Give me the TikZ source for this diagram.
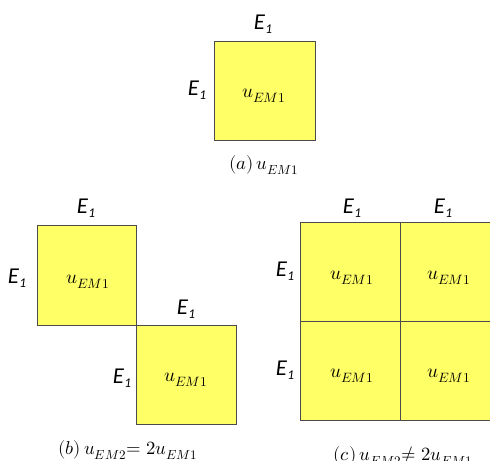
\documentclass[tikz,border=0pt]{standalone}
\usepackage{unicode-math}
\setmathfont{Latin Modern Math}
\newfontfamily\lbl{Carlito}
\begin{document}
\begin{tikzpicture}[x=0.75pt,y=-0.75pt,
  cell/.style={draw=black!70,fill=yellowfill,line width=0.6pt},
  elbl/.style={inner sep=0pt,font=\lbl\itshape\fontsize{17}{17}\selectfont},
  ulbl/.style={inner sep=0pt,font=\fontsize{14.5}{14.5}\selectfont},
  captxt/.style={inner sep=0pt,font=\fontsize{14}{14}\selectfont}]
\definecolor{yellowfill}{RGB}{255,255,102}
\useasboundingbox (0,0) rectangle (490,461);
\newcommand{\Eone}{E\kern0.5pt\raisebox{-3pt}{\fontsize{10}{10}\selectfont 1}}
% (a)
\draw[cell] (214,41) rectangle (315,140);
\node[elbl] (a1) at (263,24) {\Eone};
\node[elbl] (a2) at (197,90) {\Eone};
\node[ulbl] (au) at (264,96) {$u_{EM1}$};
\node[captxt] (acap) at (264,165) {$(a)\,u_{EM1}$};
% (b)
\draw[cell] (37,225) rectangle (136,325);
\draw[cell] (136,325) rectangle (236,424);
\node[elbl] (b1) at (86,208) {\Eone};
\node[elbl] (b2) at (17,278) {\Eone};
\node[ulbl] (bu1) at (88,282) {$u_{EM1}$};
\node[elbl] (b3) at (186,309) {\Eone};
\node[elbl] (b4) at (122,378) {\Eone};
\node[ulbl] (bu2) at (186,380) {$u_{EM1}$};
\node[captxt] (bcap) at (128,450) {$(b)\,u_{EM2}{=}\;2u_{EM1}$};
% (c)
\draw[cell] (300,222) rectangle (400,321);
\draw[cell] (400,222) rectangle (500,321);
\draw[cell] (300,321) rectangle (400,420);
\draw[cell] (400,321) rectangle (500,420);
\node[elbl] (c1) at (352,208) {\Eone};
\node[elbl] (c2) at (443,208) {\Eone};
\node[elbl] (c3) at (285,271) {\Eone};
\node[elbl] (c4) at (285,370) {\Eone};
\node[ulbl] (cu1) at (352,278) {$u_{EM1}$};
\node[ulbl] (cu2) at (449,278) {$u_{EM1}$};
\node[ulbl] (cu3) at (352,376) {$u_{EM1}$};
\node[ulbl] (cu4) at (449,376) {$u_{EM1}$};
\node[captxt,anchor=west] (ccap) at (333,456) {$(c)\,u_{EM2}{\neq}\;2u_{EM1}$};
\end{tikzpicture}
\end{document}
